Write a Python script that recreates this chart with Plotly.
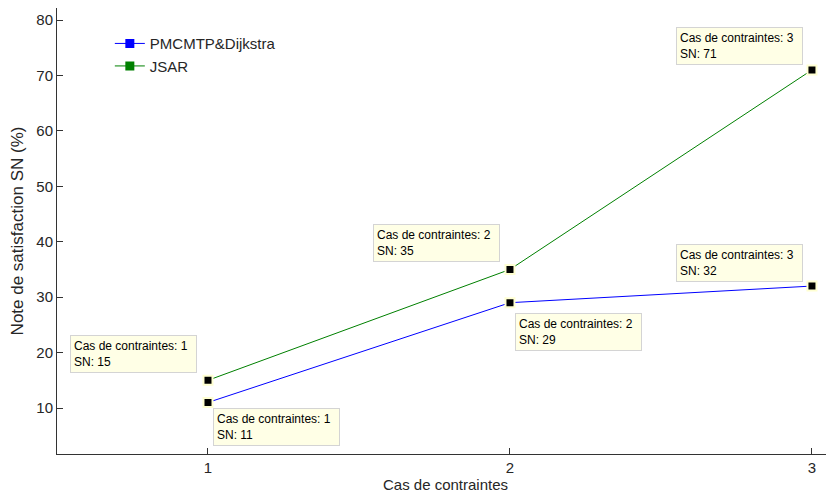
import plotly.graph_objects as go

categories = [1, 2, 3]
pmcmtp_values = [11, 29, 32]
jsar_values = [15, 35, 71]
series_names = ["PMCMTP&Dijkstra", "JSAR"]
x_tick_labels = ["1", "2", "3"]
y_tick_values = [10, 20, 30, 40, 50, 60, 70, 80]

font_family = "Liberation Sans, Arial, sans-serif"

fig = go.Figure()
fig.add_trace(go.Scatter(x=categories, y=pmcmtp_values, name=series_names[0],
                         mode="lines+markers",
                         line=dict(color="#0000ff", width=1),
                         marker=dict(symbol="square", size=9, color="#0000ff")))
fig.add_trace(go.Scatter(x=categories, y=jsar_values, name=series_names[1],
                         mode="lines+markers",
                         line=dict(color="#008000", width=1),
                         marker=dict(symbol="square", size=9, color="#008000")))
# datatip markers
for vals in (pmcmtp_values, jsar_values):
    fig.add_trace(go.Scatter(x=categories, y=vals, mode="markers", showlegend=False,
                             hoverinfo="skip",
                             marker=dict(symbol="square", size=9, color="black",
                                         line=dict(color="#ffffd2", width=2))))

# datatip annotations: (series values, index, anchor settings)
tips = [
    (jsar_values, 0, "right", "bottom", -11, 7),
    (pmcmtp_values, 0, "left", "top", 5, -6),
    (jsar_values, 1, "right", "bottom", -10, 7),
    (pmcmtp_values, 1, "left", "top", 5, -10),
    (jsar_values, 2, "right", "bottom", -9, 5),
    (pmcmtp_values, 2, "right", "bottom", -9, 4),
]
for vals, i, xa, ya, xs, ys in tips:
    fig.add_annotation(x=categories[i], y=vals[i],
                       text=f"Cas de contraintes: {categories[i]}<br>SN: {vals[i]}",
                       showarrow=False, xanchor=xa, yanchor=ya, xshift=xs, yshift=ys,
                       align="left", width=119, borderpad=3,
                       bgcolor="#ffffe6", bordercolor="#d4d4d4", borderwidth=1,
                       font=dict(family=font_family, size=12, color="black"))

axis_color = "#333333"
text_color = "#262626"
fig.update_layout(
    width=826, height=487,
    margin=dict(l=49, r=0, t=0, b=41, autoexpand=False),
    plot_bgcolor="white", paper_bgcolor="white",
    font=dict(family=font_family, size=15, color=text_color),
    showlegend=True,
    legend=dict(x=0.068, y=0.957, xanchor="left", yanchor="top",
                bgcolor="rgba(0,0,0,0)", font=dict(size=15, color=text_color),
                tracegroupgap=0),
    xaxis=dict(range=[0.5, 3.073], tickvals=categories, ticktext=x_tick_labels,
               ticks="inside", ticklen=6, tickcolor=axis_color,
               showline=True, linecolor=axis_color, linewidth=1,
               showgrid=False, zeroline=False, automargin=False,
               tickfont=dict(size=15),
               title=dict(text="Cas de contraintes", standoff=2, font=dict(size=15))),
    yaxis=dict(range=[1.7, 82.17], tickvals=y_tick_values,
               ticks="inside", ticklen=6, tickcolor=axis_color,
               showline=True, linecolor=axis_color, linewidth=1,
               showgrid=False, zeroline=False, automargin=False,
               tickfont=dict(size=15),
               title=dict(text="Note de satisfaction SN (%)", standoff=10, font=dict(size=17))),
)

fig.write_html("out.html")
